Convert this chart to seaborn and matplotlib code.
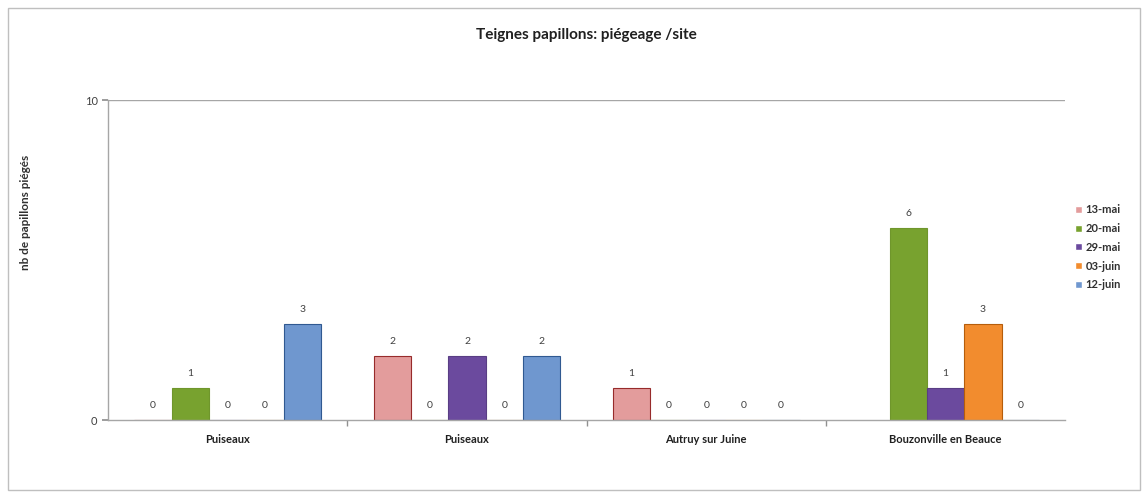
import numpy as np
import pandas as pd
import matplotlib
matplotlib.use("Agg")
import matplotlib.pyplot as plt
import seaborn as sns
from matplotlib.patches import Rectangle

sites = ["Puiseaux (a)", "Puiseaux (b)", "Autruy sur Juine", "Bouzonville en Beauce"]
site_labels = ["Puiseaux", "Puiseaux", "Autruy sur Juine", "Bouzonville en Beauce"]
dates = ["13-mai", "20-mai", "29-mai", "03-juin", "12-juin"]
v_13mai = [0, 2, 1, np.nan]
v_20mai = [1, 0, 0, 6]
v_29mai = [0, 2, 0, 1]
v_03juin = [0, 0, 0, 3]
v_12juin = [3, 2, 0, 0]
colors = ["#E39C9C", "#78A22F", "#6B4A9E", "#F28C2E", "#6F97CF"]

values = [v_13mai, v_20mai, v_29mai, v_03juin, v_12juin]
rows = []
for d, vals in zip(dates, values):
    for s, v in zip(sites, vals):
        rows.append({"site": s, "date": d, "n": v})
df = pd.DataFrame(rows)

sns.set_theme(style="white")
plt.rcParams["font.family"] = ["Lato", "DejaVu Sans"]

fig = plt.figure(figsize=(11.43, 4.93), dpi=100)
ax = fig.add_axes([0.0945, 0.148, 0.8375, 0.649])

sns.barplot(data=df, x="site", y="n", hue="date", order=sites, hue_order=dates,
            palette=colors, saturation=1, width=0.78, gap=0, ax=ax, legend=True)

for cont, col in zip(ax.containers, colors):
    for bar in cont:
        bar.set_edgecolor(sns.set_hls_values(col, l=0.38))
        bar.set_linewidth(0.8)
    ax.bar_label(cont, fmt="%g", padding=7, fontsize=7.5, color="#404040")

ax.set_ylim(0, 10)
ax.set_yticks([0, 10])
ax.set_xlim(-0.5, 3.5)
ax.set_xticks(range(len(sites)))
ax.set_xticklabels(site_labels, fontsize=8, fontweight="bold", color="#202020")
ax.set_xticks([0.5, 1.5, 2.5], minor=True)
ax.tick_params(axis="x", which="major", length=0, pad=10)
ax.tick_params(axis="x", which="minor", length=4, color="#909090", direction="out", bottom=True)
ax.tick_params(axis="y", length=4, color="#909090", direction="out", left=True,
               labelsize=8, labelcolor="#404040")
ax.axhline(10, color="#a6a6a6", lw=1)
for side in ["top", "right"]:
    ax.spines[side].set_visible(False)
for side in ["left", "bottom"]:
    ax.spines[side].set_color("#a6a6a6")
    ax.spines[side].set_linewidth(1)

ax.set_xlabel("")
ax.set_ylabel("nb de papillons piégés", fontsize=8.5, fontweight="bold", color="#303030")
ax.yaxis.set_label_coords(-0.08, 0.65)
ax.set_title("Teignes papillons: piégeage /site", fontsize=11, fontweight="bold",
             color="#202020", pad=44)

leg = ax.legend(loc="center left", bbox_to_anchor=(1.0, 0.54), frameon=False,
                fontsize=8, handlelength=0.6, handleheight=0.6, handletextpad=0.3,
                labelspacing=0.7)
for t in leg.get_texts():
    t.set_fontweight("bold")
    t.set_color("#303030")

fig.patches.append(Rectangle((8 / 1143, 3 / 493), 1132 / 1143, 482 / 493,
                             transform=fig.transFigure, fill=False,
                             edgecolor="#bfbfbf", lw=1))

fig.savefig("out.png", dpi=100)
